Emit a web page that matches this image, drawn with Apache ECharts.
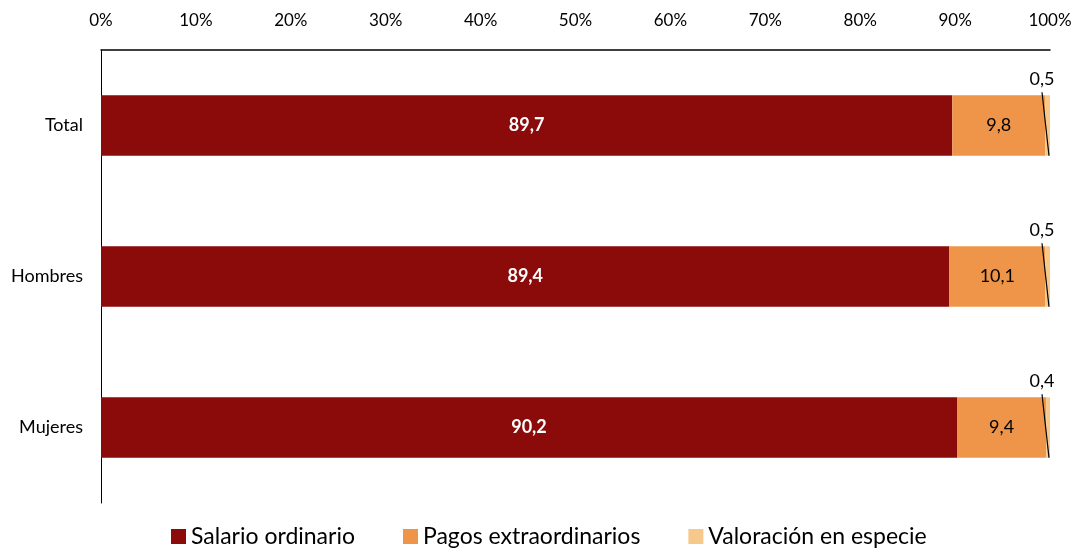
<!DOCTYPE html>
<html>
<head>
<meta charset="utf-8">
<script src="https://cdn.jsdelivr.net/npm/echarts@6/dist/echarts.min.js"></script>
<style>
  html, body { margin: 0; padding: 0; background: #fff; }
  #chart { width: 1081px; height: 549px; }
</style>
</head>
<body>
<div id="chart"></div>
<script>
// Categories (top to bottom) and percentage shares of each wage component
const categories = ['Total', 'Hombres', 'Mujeres'];
const salarioOrdinario = [89.7, 89.4, 90.2];
const pagosExtraordinarios = [9.8, 10.1, 9.4];
const valoracionEspecie = [0.5, 0.5, 0.4];
const seriesNames = ['Salario ordinario', 'Pagos extraordinarios', 'Valoración en especie'];
const tickValues = [0, 10, 20, 30, 40, 50, 60, 70, 80, 90, 100];

const FONT = 'Lato, "Liberation Sans", sans-serif';
const fmt = v => v.toFixed(1).replace('.', ',');

const chart = echarts.init(document.getElementById('chart'));

// Small-segment labels: text placed above the bar end with a leader line
const calloutData = categories.map((c, i) => [
  salarioOrdinario[i] + pagosExtraordinarios[i] + valoracionEspecie[i], i, valoracionEspecie[i]
]);

chart.setOption({
  animation: false,
  textStyle: { fontFamily: FONT },
  grid: { left: 101, right: 31, top: 50, bottom: 46, containLabel: false },
  legend: {
    top: 520,
    left: 166,
    itemWidth: 15,
    itemHeight: 15,
    itemGap: 48,
    icon: 'rect',
    textStyle: { fontSize: 23, color: '#000', fontFamily: FONT },
    data: seriesNames
  },
  xAxis: {
    type: 'value',
    position: 'top',
    min: tickValues[0],
    max: tickValues[tickValues.length - 1],
    interval: 10,
    axisLine: { show: true, lineStyle: { color: '#000', width: 1.5 } },
    axisTick: { show: false },
    splitLine: { show: false },
    axisLabel: {
      formatter: '{value}%',
      margin: 21,
      fontSize: 17,
      color: '#000',
      fontFamily: FONT
    }
  },
  yAxis: {
    type: 'category',
    inverse: true,
    data: categories,
    axisLine: { show: true, lineStyle: { color: '#000', width: 1 } },
    axisTick: { show: false },
    axisLabel: { margin: 18, fontSize: 18, color: '#000', fontFamily: FONT }
  },
  series: [
    {
      name: seriesNames[0],
      type: 'bar',
      stack: 'total',
      barCategoryGap: '60%',
      data: salarioOrdinario,
      itemStyle: { color: '#8B0A0A' },
      label: {
        show: true,
        position: 'inside',
        color: '#fff',
        fontWeight: 'bold',
        fontSize: 18,
        fontFamily: FONT,
        formatter: p => fmt(p.value)
      }
    },
    {
      name: seriesNames[1],
      type: 'bar',
      stack: 'total',
      data: pagosExtraordinarios,
      itemStyle: { color: '#EE9549' },
      label: {
        show: true,
        position: 'inside',
        color: '#000',
        fontSize: 18,
        fontFamily: FONT,
        formatter: p => fmt(p.value)
      }
    },
    {
      name: seriesNames[2],
      type: 'bar',
      stack: 'total',
      data: valoracionEspecie,
      itemStyle: { color: '#F6C88A' }
    },
    {
      type: 'custom',
      silent: true,
      clip: false,
      z: 10,
      legendHoverLink: false,
      data: calloutData,
      encode: { x: 0, y: 1 },
      renderItem: (params, api) => {
        const end = api.coord([api.value(0), api.value(1)]);
        const band = api.size([0, 1])[1];
        const half = band * 0.4 / 2;
        const top = end[1] - half;
        const bottom = end[1] + half;
        return {
          type: 'group',
          children: [
            {
              type: 'line',
              z2: 10,
              shape: { x1: end[0] - 8, y1: top - 3, x2: end[0] - 1, y2: bottom },
              style: { stroke: '#000', lineWidth: 1.2, fill: null }
            },
            {
              type: 'text',
              style: {
                x: end[0] - 8,
                y: top - 16,
                text: fmt(api.value(2)),
                fill: '#000',
                font: '18px ' + FONT,
                align: 'center',
                verticalAlign: 'middle'
              }
            }
          ]
        };
      }
    }
  ]
});
</script>
</body>
</html>
